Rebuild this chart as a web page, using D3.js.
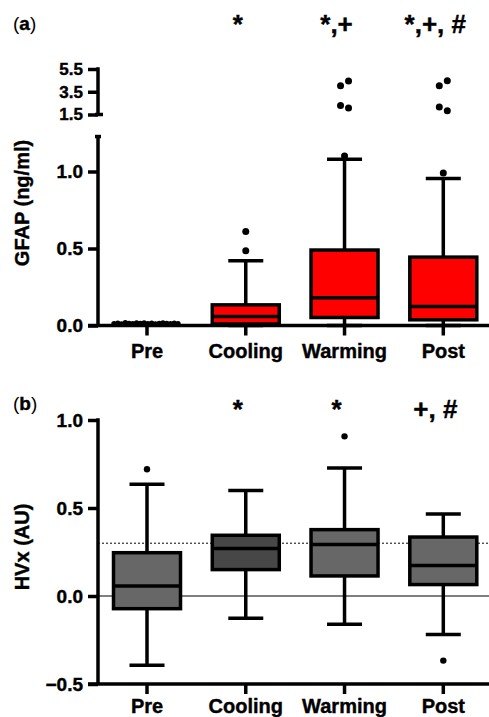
<!doctype html>
<html>
<head>
<meta charset="utf-8">
<script src="https://d3js.org/d3.v7.min.js"></script>
<style>
  body { margin: 0; background: #fff; }
  text { font-family: "Liberation Sans", Arial, Helvetica, sans-serif; font-weight: bold; fill: #000; stroke: #000; stroke-width: 0.4px; }
</style>
</head>
<body>
<script>
var groups = ["Pre", "Cooling", "Warming", "Post"];

// panel (a) GFAP, ng/ml  (Pre has no box, only the points)
var gfapLow = [null, 0.0, 0.0, 0.0];
var gfapQ1 = [null, 0.01, 0.052, 0.037];
var gfapMed = [null, 0.058, 0.18, 0.123];
var gfapQ3 = [null, 0.134, 0.49, 0.444];
var gfapHigh = [null, 0.42, 1.08, 0.955];
var gfapOut = [[], [0.61, 0.485], [1.10, 4.02, 4.44, 2.29, 2.08], [0.99, 4.02, 4.46, 2.17, 1.82]];
var gfapPre = [0.012, 0.015, 0.010, 0.018, 0.014, 0.011, 0.016, 0.013, 0.017, 0.012, 0.015, 0.010, 0.014, 0.016, 0.013, 0.011, 0.015, 0.012];
var gfapTicks = [0, 0.5, 1.0];
var gfapTicksHigh = [1.5, 3.5, 5.5];
var gfapSig = ["", "*", "*,+", "*,+, #"];

// panel (b) HVx, AU
var hvxLow = [-0.394, -0.127, -0.161, -0.219];
var hvxQ1 = [-0.072, 0.15, 0.114, 0.065];
var hvxMed = [0.057, 0.27, 0.292, 0.174];
var hvxQ3 = [0.246, 0.345, 0.377, 0.335];
var hvxHigh = [0.635, 0.60, 0.727, 0.466];
var hvxOut = [[0.72], [], [0.907], [-0.367]];
var hvxTicks = [-0.5, 0, 0.5, 1.0];
var hvxSig = ["", "*", "*", "+, #"];
var hvxRef = 0.3;

var W = 489, H = 717;
var axisX = 98, boxW = 67, capW = 35, lw = 3.5;

var svg = d3.select("body").append("svg")
  .attr("width", W).attr("height", H);

var x = d3.scalePoint().domain(groups).range([147, 443.3]);

// ---------- panel a ----------
var ya = d3.scaleLinear().domain([0, 1]).range([325.5, 171.5]);
var yaHigh = d3.scaleLinear().domain([1.5, 5.5]).range([114.5, 69]);
var breakAt = 1.25;
function yA(v) { return v > breakAt ? yaHigh(v) : ya(v); }

var ga = svg.append("g");

ga.append("g")
  .attr("transform", "translate(" + axisX + ",0)")
  .call(d3.axisLeft(ya).tickValues(gfapTicks).tickFormat(d3.format(".1f")).tickSize(10).tickSizeOuter(0).tickPadding(5))
  .call(styleAxis);
ga.append("g")
  .attr("transform", "translate(" + axisX + ",0)")
  .call(d3.axisLeft(yaHigh).tickValues(gfapTicksHigh).tickFormat(d3.format(".1f")).tickSize(10).tickSizeOuter(0).tickPadding(5))
  .call(styleAxis)
  .selectAll("text").style("font-size", "17px");

// broken y axis segments
ga.append("line").attr("x1", axisX).attr("x2", axisX)
  .attr("y1", ya(0)).attr("y2", ya(1.227))
  .attr("stroke", "#000").attr("stroke-width", lw);
ga.append("line").attr("x1", axisX - 3).attr("x2", axisX + 3)
  .attr("y1", ya(1.227)).attr("y2", ya(1.227))
  .attr("stroke", "#000").attr("stroke-width", lw);
ga.append("line").attr("x1", axisX).attr("x2", axisX)
  .attr("y1", yaHigh(1.5)).attr("y2", yaHigh(5.5) - lw / 2)
  .attr("stroke", "#000").attr("stroke-width", lw);
ga.append("line").attr("x1", axisX - 3).attr("x2", axisX + 5)
  .attr("y1", yaHigh(1.5)).attr("y2", yaHigh(1.5))
  .attr("stroke", "#000").attr("stroke-width", lw);

drawXAxis(ga, ya(0), 32);

// Pre points
var preX = d3.scalePoint().domain(d3.range(gfapPre.length)).range([x("Pre") - 33, x("Pre") + 31]);
ga.selectAll(".pre").data(gfapPre).enter().append("circle")
  .attr("cx", function(d, i) { return preX(i); })
  .attr("cy", function(d) { return ya(d); })
  .attr("r", 2.7).attr("fill", "#000");

var dataA = groups.map(function(g, i) {
  return { g: g, lo: gfapLow[i], q1: gfapQ1[i], med: gfapMed[i], q3: gfapQ3[i], hi: gfapHigh[i], out: gfapOut[i], fill: "#ff0000" };
}).filter(function(d) { return d.q1 !== null; });
drawBoxes(ga, dataA, yA, 3.5);

ga.selectAll(".sig").data(gfapSig).enter().append("text")
  .attr("x", function(d, i) { return x(groups[i]) - 8; })
  .attr("y", 32.5)
  .attr("text-anchor", "middle")
  .style("font-size", "26px")
  .text(function(d) { return d; });

ga.append("text").attr("x", 13).attr("y", 30).style("font-size", "19px")
  .html('<tspan style="font-weight:normal;stroke-width:0">(</tspan>a<tspan style="font-weight:normal;stroke-width:0">)</tspan>');

ga.append("text")
  .attr("transform", "translate(29," + 203 + ") rotate(-90)")
  .attr("text-anchor", "middle")
  .style("font-size", "20px")
  .text("GFAP (ng/ml)");

// ---------- panel b ----------
var yb = d3.scaleLinear().domain([-0.5, 1.0]).range([684, 420]);
var gb = svg.append("g");

gb.append("line").attr("x1", axisX).attr("x2", W)
  .attr("y1", yb(0)).attr("y2", yb(0))
  .attr("stroke", "#000").attr("stroke-width", 1);
gb.append("line").attr("x1", axisX).attr("x2", W)
  .attr("y1", yb(hvxRef)).attr("y2", yb(hvxRef))
  .attr("stroke", "#000").attr("stroke-width", 1).attr("stroke-dasharray", "2,2");

gb.append("g")
  .attr("transform", "translate(" + axisX + ",0)")
  .call(d3.axisLeft(yb).tickValues(hvxTicks).tickFormat(d3.format(".1f")).tickSize(10).tickSizeOuter(0).tickPadding(5))
  .call(styleAxis);
gb.append("line").attr("x1", axisX).attr("x2", axisX)
  .attr("y1", yb(-0.5)).attr("y2", yb(1.0) - lw / 2)
  .attr("stroke", "#000").attr("stroke-width", lw);

drawXAxis(gb, yb(-0.5), 28.5);

var hvxFill = ["#676767", "#474747", "#676767", "#676767"];
var dataB = groups.map(function(g, i) {
  return { g: g, lo: hvxLow[i], q1: hvxQ1[i], med: hvxMed[i], q3: hvxQ3[i], hi: hvxHigh[i], out: hvxOut[i], fill: hvxFill[i] };
});
drawBoxes(gb, dataB, yb, 3.2);

gb.selectAll(".sig").data(hvxSig).enter().append("text")
  .attr("x", function(d, i) { return x(groups[i]) - 8; })
  .attr("y", 418)
  .attr("text-anchor", "middle")
  .style("font-size", "26px")
  .text(function(d) { return d; });

gb.append("text").attr("x", 13).attr("y", 409.5).style("font-size", "19px")
  .html('<tspan style="font-weight:normal;stroke-width:0">(</tspan>b<tspan style="font-weight:normal;stroke-width:0">)</tspan>');

gb.append("text")
  .attr("transform", "translate(29," + 547 + ") rotate(-90)")
  .attr("text-anchor", "middle")
  .style("font-size", "20px")
  .text("HVx (AU)");

// ---------- helpers ----------
function styleAxis(g) {
  g.select(".domain").remove();
  g.selectAll(".tick line").attr("stroke", "#000").attr("stroke-width", lw);
  g.selectAll(".tick text").style("font-size", "19px").style("font-family", null);
}

function drawXAxis(g, y0, labelOff) {
  g.append("line").attr("x1", axisX - 10).attr("x2", W)
    .attr("y1", y0).attr("y2", y0)
    .attr("stroke", "#000").attr("stroke-width", lw);
  g.selectAll(".xt").data(groups).enter().append("line")
    .attr("x1", function(d) { return x(d); }).attr("x2", function(d) { return x(d); })
    .attr("y1", y0).attr("y2", y0 + 10)
    .attr("stroke", "#000").attr("stroke-width", lw);
  g.selectAll(".xl").data(groups).enter().append("text")
    .attr("x", function(d) { return x(d); })
    .attr("y", y0 + labelOff)
    .attr("text-anchor", "middle")
    .style("font-size", "20px")
    .text(function(d) { return d; });
}

function drawBoxes(g, data, y, r) {
  var b = g.selectAll(".box").data(data).enter().append("g");
  b.append("line")
    .attr("x1", function(d) { return x(d.g); }).attr("x2", function(d) { return x(d.g); })
    .attr("y1", function(d) { return y(d.hi); }).attr("y2", function(d) { return y(d.lo); })
    .attr("stroke", "#000").attr("stroke-width", lw);
  b.append("line")
    .attr("x1", function(d) { return x(d.g) - capW / 2; }).attr("x2", function(d) { return x(d.g) + capW / 2; })
    .attr("y1", function(d) { return y(d.hi); }).attr("y2", function(d) { return y(d.hi); })
    .attr("stroke", "#000").attr("stroke-width", lw);
  b.append("line")
    .attr("x1", function(d) { return x(d.g) - capW / 2; }).attr("x2", function(d) { return x(d.g) + capW / 2; })
    .attr("y1", function(d) { return y(d.lo); }).attr("y2", function(d) { return y(d.lo); })
    .attr("stroke", "#000").attr("stroke-width", lw);
  b.append("rect")
    .attr("x", function(d) { return x(d.g) - boxW / 2; })
    .attr("y", function(d) { return y(d.q3); })
    .attr("width", boxW)
    .attr("height", function(d) { return y(d.q1) - y(d.q3); })
    .attr("fill", function(d) { return d.fill; })
    .attr("stroke", "#000").attr("stroke-width", lw);
  b.append("line")
    .attr("x1", function(d) { return x(d.g) - boxW / 2; }).attr("x2", function(d) { return x(d.g) + boxW / 2; })
    .attr("y1", function(d) { return y(d.med); }).attr("y2", function(d) { return y(d.med); })
    .attr("stroke", "#000").attr("stroke-width", lw);
  b.each(function(d) {
    var j = 0;
    d3.select(this).selectAll(".out").data(d.out).enter().append("circle")
      .attr("cx", function(v) {
        if (v <= breakAt) return x(d.g);
        return x(d.g) + ((j++ % 2 === 0) ? -4 : 4);
      })
      .attr("cy", function(v) { return y(v); })
      .attr("r", r).attr("fill", "#000");
  });
}
</script>
</body>
</html>
